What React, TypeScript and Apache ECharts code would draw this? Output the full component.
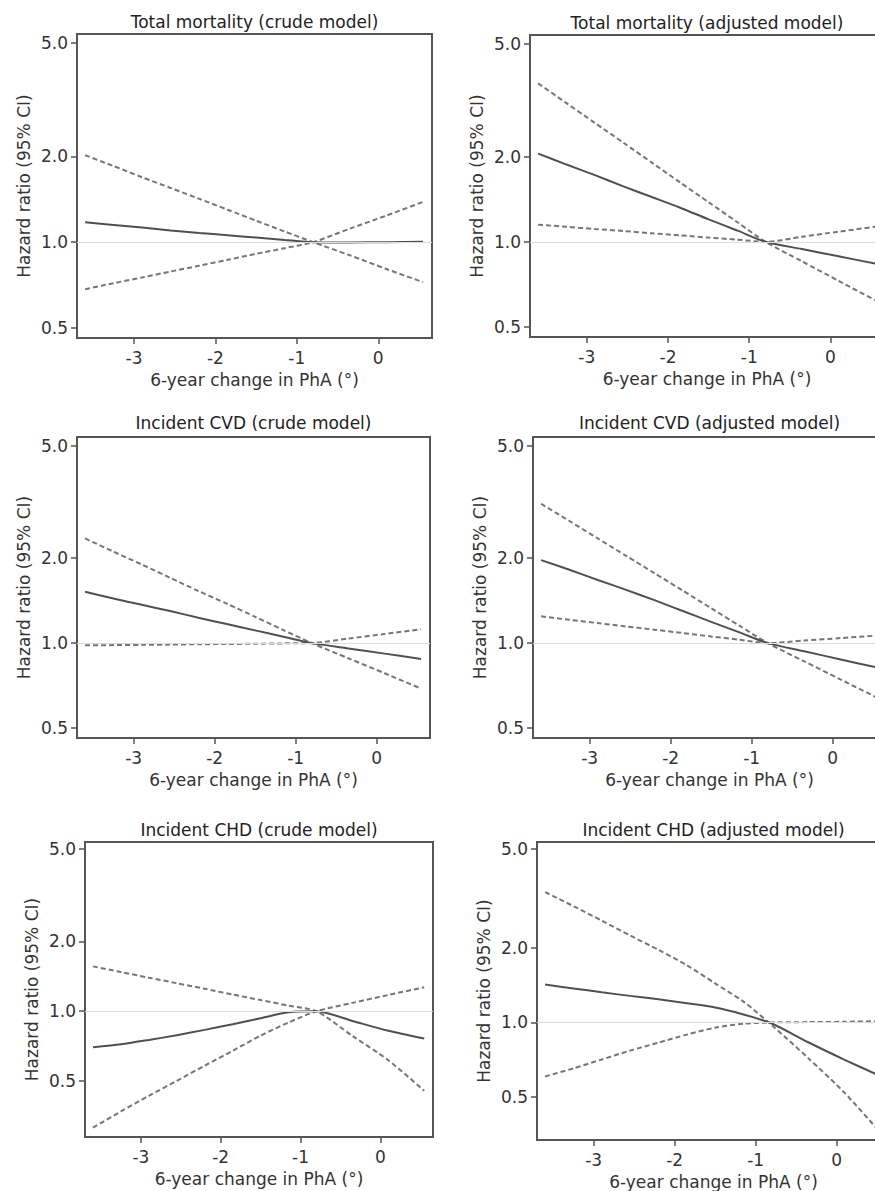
import React, { useEffect, useRef } from "react";
import * as echarts from "echarts";

// ---- data ----
const xValues = [-3.6, -3.25, -2.9, -2.55, -2.2, -1.85, -1.5, -1.15, -0.8, -0.35, 0.1, 0.55];
const xTicks = [-3, -2, -1, 0];
const yTicks = [0.5, 1, 2, 5];

const panelTitles = [
  "Total mortality (crude model)",
  "Total mortality (adjusted model)",
  "Incident CVD (crude model)",
  "Incident CVD (adjusted model)",
  "Incident CHD (crude model)",
  "Incident CHD (adjusted model)",
];
const xAxisTitle = "6-year change in PhA (\u00B0)";
const yAxisTitle = "Hazard ratio (95% CI)";

// hazard ratio (solid) and the two dashed confidence-limit curves (they cross at the reference point)
const hrTotalCrude = [1.175, 1.15, 1.125, 1.1, 1.078, 1.058, 1.038, 1.018, 1.0, 0.998, 1.0, 1.003];
const ciATotalCrude = [2.02, 1.85, 1.69, 1.55, 1.42, 1.3, 1.19, 1.09, 1.0, 0.9, 0.805, 0.724];
const ciBTotalCrude = [0.684, 0.718, 0.752, 0.789, 0.827, 0.867, 0.91, 0.953, 1.0, 1.115, 1.24, 1.385];

const hrTotalAdj = [2.05, 1.875, 1.72, 1.57, 1.44, 1.32, 1.2, 1.097, 1.0, 0.943, 0.889, 0.838];
const ciATotalAdj = [3.63, 3.09, 2.63, 2.24, 1.905, 1.62, 1.38, 1.175, 1.0, 0.853, 0.728, 0.622];
const ciBTotalAdj = [1.15, 1.13, 1.11, 1.092, 1.072, 1.054, 1.035, 1.018, 1.0, 1.042, 1.086, 1.13];

const hrCvdCrude = [1.52, 1.44, 1.367, 1.3, 1.23, 1.169, 1.11, 1.054, 1.0, 0.958, 0.918, 0.879];
const ciACvdCrude = [2.35, 2.11, 1.9, 1.705, 1.53, 1.38, 1.24, 1.112, 1.0, 0.884, 0.782, 0.69];
const ciBCvdCrude = [0.982, 0.984, 0.986, 0.988, 0.991, 0.993, 0.995, 0.998, 1.0, 1.038, 1.078, 1.12];

const hrCvdAdj = [1.97, 1.82, 1.675, 1.545, 1.42, 1.3, 1.19, 1.092, 1.0, 0.936, 0.875, 0.82];
const ciACvdAdj = [3.12, 2.71, 2.35, 2.04, 1.77, 1.535, 1.33, 1.153, 1.0, 0.862, 0.743, 0.641];
const ciBCvdAdj = [1.245, 1.21, 1.178, 1.146, 1.116, 1.086, 1.056, 1.028, 1.0, 1.021, 1.042, 1.064];

const hrChdCrude = [0.7, 0.72, 0.752, 0.788, 0.831, 0.879, 0.933, 0.99, 1.0, 0.908, 0.823, 0.762];
const ciAChdCrude = [1.56, 1.475, 1.395, 1.32, 1.249, 1.18, 1.117, 1.057, 1.0, 0.783, 0.615, 0.454];
const ciBChdCrude = [0.315, 0.37, 0.432, 0.501, 0.583, 0.675, 0.785, 0.894, 1.0, 1.086, 1.175, 1.268];

const hrChdAdj = [1.42, 1.371, 1.322, 1.279, 1.24, 1.195, 1.148, 1.076, 0.99, 0.832, 0.707, 0.606];
const ciAChdAdj = [3.35, 2.94, 2.57, 2.24, 1.96, 1.7, 1.436, 1.213, 0.975, 0.718, 0.52, 0.357];
const ciBChdAdj = [0.606, 0.653, 0.709, 0.77, 0.829, 0.893, 0.952, 0.988, 1.0, 1.003, 1.006, 1.012];

const yMins = [0.461, 0.461, 0.461, 0.461, 0.287, 0.336];
const yMaxs = [5.38, 5.38, 5.38, 5.38, 5.36, 5.33];
const xMin = -3.7;
const xMax = 0.66;

const panels = [
  { hr: hrTotalCrude, a: ciATotalCrude, b: ciBTotalCrude },
  { hr: hrTotalAdj, a: ciATotalAdj, b: ciBTotalAdj },
  { hr: hrCvdCrude, a: ciACvdCrude, b: ciBCvdCrude },
  { hr: hrCvdAdj, a: ciACvdAdj, b: ciBCvdAdj },
  { hr: hrChdCrude, a: ciAChdCrude, b: ciBChdCrude },
  { hr: hrChdAdj, a: ciAChdAdj, b: ciBChdAdj },
];

// ---- layout ----
const gridRects = [
  { left: 77, top: 34, width: 355, height: 304 },
  { left: 530, top: 35, width: 354, height: 302 },
  { left: 77, top: 437, width: 353, height: 301 },
  { left: 533, top: 437, width: 353, height: 301 },
  { left: 85, top: 842, width: 348, height: 295 },
  { left: 537, top: 842, width: 353, height: 300 },
];
const titleOffsets = [12, 12, 14, 14, 12, 12];

const FONT = "DejaVu Sans";
const FS = 17;

export default function App() {
  const ref = useRef<HTMLDivElement>(null);

  useEffect(() => {
    if (!ref.current) return;
    const chart = echarts.init(ref.current, undefined, { renderer: "svg" });
    const toPts = (arr: number[]) => xValues.map((x, j) => [x, arr[j]]);

    const grid = gridRects.map((g) => ({
      ...g,
      show: true,
      borderColor: "#555",
      borderWidth: 2,
      backgroundColor: "transparent",
    }));

    const xAxis = gridRects.map((_, i) => ({
      type: "value",
      gridIndex: i,
      min: xMin,
      max: xMax,
      axisLine: { show: true, onZero: false, lineStyle: { color: "#555", width: 2 } },
      axisTick: { show: true, length: 6, customValues: xTicks, lineStyle: { color: "#555", width: 1.5 } },
      axisLabel: { customValues: xTicks, margin: 11, fontSize: FS, color: "#333", fontFamily: FONT },
      splitLine: { show: false },
      name: xAxisTitle,
      nameLocation: "middle",
      nameGap: 33,
      nameTextStyle: { fontSize: FS, color: "#333", fontFamily: FONT },
    }));

    const yAxis = gridRects.map((_, i) => ({
      type: "log",
      logBase: 10,
      gridIndex: i,
      min: yMins[i],
      max: yMaxs[i],
      axisLine: { show: true, onZero: false, lineStyle: { color: "#555", width: 2 } },
      axisTick: { show: true, length: 6, customValues: yTicks, lineStyle: { color: "#555", width: 1.5 } },
      axisLabel: {
        customValues: yTicks,
        margin: 9,
        fontSize: FS,
        color: "#333",
        fontFamily: FONT,
        formatter: (v: number) => Number(v).toFixed(1),
      },
      splitLine: { show: false },
      name: yAxisTitle,
      nameLocation: "middle",
      nameGap: 45,
      nameRotate: 90,
      nameTextStyle: { fontSize: FS, color: "#333", fontFamily: FONT },
    }));

    const series: any[] = [];
    panels.forEach((p, i) => {
      const dashed = {
        type: "line",
        xAxisIndex: i,
        yAxisIndex: i,
        showSymbol: false,
        smooth: 0.25,
        lineStyle: { color: "#767676", width: 2, type: [5, 3] },
      };
      series.push({
        ...dashed,
        data: toPts(p.a),
        markLine: {
          silent: true,
          symbol: "none",
          label: { show: false },
          lineStyle: { color: "#dcdcdc", width: 1, type: "solid" },
          data: [{ yAxis: 1 }],
        },
      });
      series.push({ ...dashed, data: toPts(p.b) });
      series.push({
        type: "line",
        xAxisIndex: i,
        yAxisIndex: i,
        showSymbol: false,
        smooth: 0.25,
        data: toPts(p.hr),
        lineStyle: { color: "#505050", width: 2, type: "solid" },
      });
    });

    const graphic = gridRects.map((g, i) => ({
      type: "text",
      x: g.left + g.width / 2,
      y: g.top - titleOffsets[i],
      style: {
        text: panelTitles[i],
        fontSize: FS,
        fontFamily: FONT,
        fill: "#222",
        align: "center",
        verticalAlign: "middle",
        textAlign: "center",
        textVerticalAlign: "middle",
      },
    }));

    chart.setOption({
      animation: false,
      backgroundColor: "#fff",
      grid,
      xAxis,
      yAxis,
      series,
      graphic,
    } as any);

    return () => chart.dispose();
  }, []);

  return (
    <div
      style={{
        position: "absolute",
        left: 0,
        top: 0,
        width: 875,
        height: 1191,
        overflow: "hidden",
        background: "#fff",
      }}
    >
      <div ref={ref} style={{ width: 900, height: 1191 }} />
    </div>
  );
}
